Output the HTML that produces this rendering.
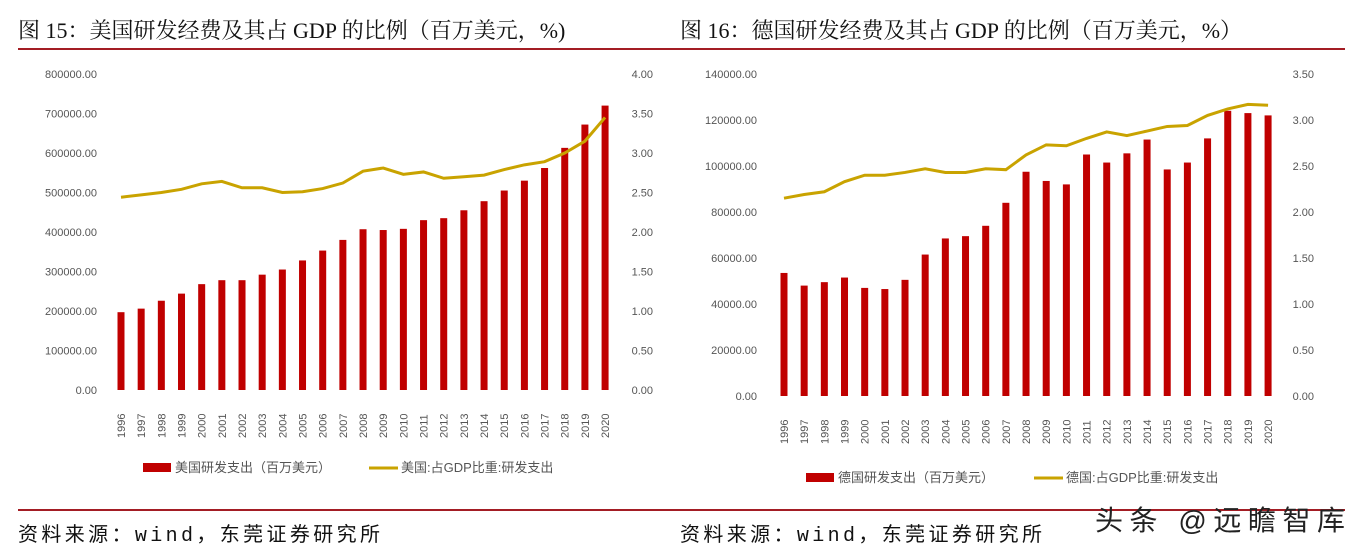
<!DOCTYPE html><html><head><meta charset="utf-8"><style>
body{margin:0;background:#fff;width:1359px;height:553px;overflow:hidden}
svg text{font-family:"Liberation Sans","Noto Sans CJK SC",sans-serif}
</style></head><body>
<svg id="s" width="1359" height="553" xmlns="http://www.w3.org/2000/svg">
<text x="18" y="38" font-size="22" style="font-family:'Liberation Serif','Noto Serif CJK SC',serif" fill="#111">图 15：美国研发经费及其占 GDP 的比例（百万美元，%)</text>
<text x="680" y="38" font-size="22" style="font-family:'Liberation Serif','Noto Serif CJK SC',serif" fill="#111">图 16：德国研发经费及其占 GDP 的比例（百万美元，%）</text>
<line x1="18" y1="49" x2="1345" y2="49" stroke="#a31d24" stroke-width="2"/>
<line x1="18" y1="510" x2="1345" y2="510" stroke="#a31d24" stroke-width="2"/>
<text x="18" y="541" font-size="20" textLength="362" style="font-family:'Liberation Mono','Noto Sans CJK SC',monospace" fill="#111">资料来源：wind，东莞证券研究所</text>
<text x="680" y="541" font-size="20" textLength="362" style="font-family:'Liberation Mono','Noto Sans CJK SC',monospace" fill="#111">资料来源：wind，东莞证券研究所</text>
<text x="1095" y="530" font-size="28" textLength="250" fill="#222">头条 @远瞻智库</text>
</svg>
<script>
const s=document.getElementById('s');let h='';
function chart(o){
 for(let i=0;i<=o.n;i++){const y=o.y0-(o.y0-o.yt)*i/o.n;
  h+=`<text x="${o.lx}" y="${y+4}" font-size="11" fill="#555" text-anchor="end">${(o.ls*i).toFixed(2)}</text>`;
  h+=`<text x="${o.rx}" y="${y+4}" font-size="11" fill="#555" text-anchor="end">${(o.rs*i).toFixed(2)}</text>`;}
 let pts=[];
 o.b.forEach((v,i)=>{const x=o.x0+i*20.17;const y=o.y0-v/(o.ls*o.n)*(o.y0-o.yt);
  h+=`<rect x="${x-3.5}" y="${y}" width="7" height="${o.y0-y}" fill="#c00000"/>`;
  h+=`<text transform="translate(${x+4},${o.y0+48}) rotate(-90)" font-size="11" fill="#555">${1996+i}</text>`;
  pts.push(x+','+(o.y0-o.l[i]/(o.rs*o.n)*(o.y0-o.yt)));});
 h+=`<polyline points="${pts.join(' ')}" fill="none" stroke="#c9a300" stroke-width="3"/>`;
 h+=`<rect x="${o.lg[0]}" y="${o.lg[2]-5}" width="28" height="9" fill="#c00000"/><text x="${o.lg[0]+32}" y="${o.lg[2]+4}" font-size="13" fill="#555">${o.t1}</text>`;
 h+=`<line x1="${o.lg[1]}" y1="${o.lg[2]}" x2="${o.lg[1]+29}" y2="${o.lg[2]}" stroke="#c9a300" stroke-width="3"/><text x="${o.lg[1]+32}" y="${o.lg[2]+4}" font-size="13" fill="#555">${o.t2}</text>`;
}
chart({n:8,yt:74,y0:390,lx:97,rx:653,ls:100000,rs:0.5,x0:121,
b:[197,206,226,244,268,278,278,292,305,328,353,380,407,405,408,430,435,455,478,505,530,562,613,672,720].map(v=>v*1000),
l:[2.44,2.47,2.50,2.54,2.61,2.64,2.56,2.56,2.50,2.51,2.55,2.62,2.77,2.81,2.73,2.76,2.68,2.70,2.72,2.79,2.85,2.89,3.00,3.15,3.45],
lg:[143,369,468],t1:'美国研发支出（百万美元）',t2:'美国:占GDP比重:研发支出'});
chart({n:7,yt:74,y0:396,lx:757,rx:1314,ls:20000,rs:0.5,x0:784,
b:[53.5,48,49.5,51.5,47,46.5,50.5,61.5,68.5,69.5,74,84,97.5,93.5,92,105,101.5,105.5,111.5,98.5,101.5,112,124,123,122].map(v=>v*1000),
l:[2.15,2.19,2.22,2.33,2.40,2.40,2.43,2.47,2.43,2.43,2.47,2.46,2.62,2.73,2.72,2.80,2.87,2.83,2.88,2.93,2.94,3.05,3.12,3.17,3.16],
lg:[806,1034,478],t1:'德国研发支出（百万美元）',t2:'德国:占GDP比重:研发支出'});
s.insertAdjacentHTML('beforeend',h);
</script>
</body></html>
